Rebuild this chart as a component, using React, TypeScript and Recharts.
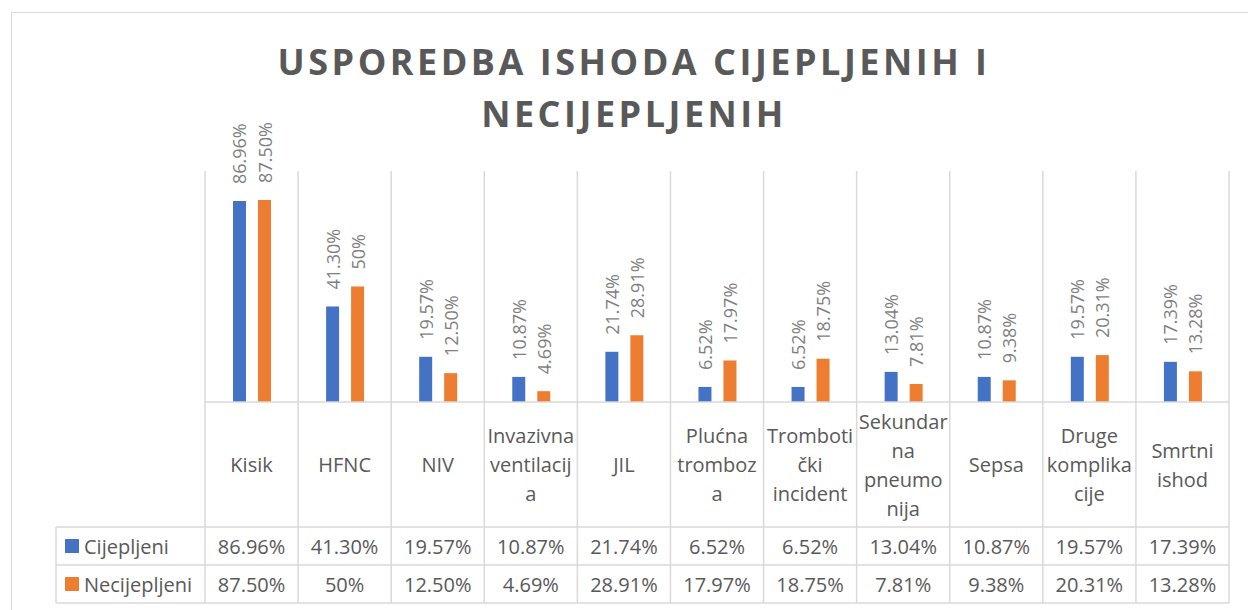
import React from 'react';
import { BarChart, Bar, XAxis, YAxis, LabelList } from 'recharts';

const categories = [
  'Kisik',
  'HFNC',
  'NIV',
  'Invazivna\nventilacij\na',
  'JIL',
  'Plućna\ntromboz\na',
  'Tromboti\nčki\nincident',
  'Sekundar\nna\npneumo\nnija',
  'Sepsa',
  'Druge\nkomplika\ncije',
  'Smrtni\nishod',
];

const cijepljeni = [86.96, 41.3, 19.57, 10.87, 21.74, 6.52, 6.52, 13.04, 10.87, 19.57, 17.39];
const necijepljeni = [87.5, 50, 12.5, 4.69, 28.91, 17.97, 18.75, 7.81, 9.38, 20.31, 13.28];

const seriesNames = ['Cijepljeni', 'Necijepljeni'];
const titleLines = ['USPOREDBA ISHODA CIJEPLJENIH I', 'NECIJEPLJENIH'];

const data = categories.map((name, i) => ({
  name,
  cijepljeni: cijepljeni[i],
  necijepljeni: necijepljeni[i],
}));

const BLUE = '#4472C4';
const ORANGE = '#ED7D31';
const GRID = '#D9D9D9';
const TEXT = '#595959';
const FONT = '"Open Sans", sans-serif';

// layout
const W = 1248;
const H = 610;
const PLOT_LEFT = 205;
const PLOT_RIGHT = 1229;
const PLOT_TOP = 171;
const BASE = 402;
const ROW1 = 527;
const ROW2 = 565;
const ROW3 = 603;
const LEGEND_LEFT = 56;
const BAND = (PLOT_RIGHT - PLOT_LEFT) / categories.length;

const fmt = (v: number) => (Number.isInteger(v) ? `${v}%` : `${v.toFixed(2)}%`);

const RotatedLabel = (props: any) => {
  const { x, y, width, value } = props;
  const cx = x + width / 2;
  const ty = y - 17;
  return (
    <text
      x={cx}
      y={ty}
      transform={`rotate(-90 ${cx} ${ty})`}
      textAnchor="start"
      dominantBaseline="central"
      fill="#7F7F7F"
      fontSize={18}
      fontFamily={FONT}
    >
      {fmt(value)}
    </text>
  );
};

// category axis tick draws the data table column under each category
const TableTick = (props: any) => {
  const { x, payload, index } = props;
  const lines: string[] = String(payload.value).split('\n');
  const lh = 29;
  const midY = (BASE + ROW1) / 2;
  const startY = midY - ((lines.length - 1) * lh) / 2;
  const left = x - BAND / 2;
  const right = x + BAND / 2;
  const isLast = index === categories.length - 1;
  return (
    <g>
      <line x1={left} x2={left} y1={PLOT_TOP} y2={ROW3} stroke={GRID} strokeWidth={1.5} />
      {isLast && <line x1={right} x2={right} y1={PLOT_TOP} y2={ROW3} stroke={GRID} strokeWidth={1.5} />}
      {lines.map((l, i) => (
        <text
          key={i}
          x={x}
          y={startY + i * lh}
          textAnchor="middle"
          dominantBaseline="central"
          fill={TEXT}
          fontSize={20}
          fontFamily={FONT}
        >
          {l}
        </text>
      ))}
      <text x={x} y={(ROW1 + ROW2) / 2} textAnchor="middle" dominantBaseline="central" fill={TEXT} fontSize={20} fontFamily={FONT}>
        {fmt(cijepljeni[index])}
      </text>
      <text x={x} y={(ROW2 + ROW3) / 2} textAnchor="middle" dominantBaseline="central" fill={TEXT} fontSize={20} fontFamily={FONT}>
        {fmt(necijepljeni[index])}
      </text>
      {index === 0 && (
        <g>
          {[ROW1, ROW2, ROW3].map((ry) => (
            <line key={ry} x1={LEGEND_LEFT} x2={PLOT_RIGHT} y1={ry} y2={ry} stroke={GRID} strokeWidth={1.5} />
          ))}
          <line x1={LEGEND_LEFT} x2={LEGEND_LEFT} y1={ROW1} y2={ROW3} stroke={GRID} strokeWidth={1.5} />
          {seriesNames.map((s, i) => {
            const cy = i === 0 ? (ROW1 + ROW2) / 2 : (ROW2 + ROW3) / 2;
            return (
              <g key={s}>
                <rect x={65} y={cy - 7} width={14} height={14} fill={i === 0 ? BLUE : ORANGE} />
                <text x={84} y={cy} dominantBaseline="central" fill={TEXT} fontSize={20} fontFamily={FONT}>
                  {s}
                </text>
              </g>
            );
          })}
        </g>
      )}
    </g>
  );
};

export default function App() {
  return (
    <div style={{ position: 'absolute', left: 0, top: 0, width: W, height: H, background: '#fff', overflow: 'hidden' }}>
      <div
        style={{
          position: 'absolute',
          left: 11,
          top: 12,
          width: W,
          height: H,
          border: `1.5px solid ${GRID}`,
        }}
      />
      <svg width={W} height={150} style={{ position: 'absolute', left: 0, top: 0 }}>
        {titleLines.map((t, i) => (
          <text
            key={i}
            x={634}
            y={75 + i * 52}
            textAnchor="middle"
            fill={TEXT}
            fontSize={36}
            fontWeight={700}
            letterSpacing={3.5}
            fontFamily={FONT}
          >
            {t}
          </text>
        ))}
      </svg>
      <div style={{ position: 'absolute', left: 0, top: 0 }}>
        <BarChart
          width={W}
          height={H}
          data={data}
          margin={{ top: PLOT_TOP, right: W - PLOT_RIGHT, bottom: H - ROW3, left: PLOT_LEFT }}
          barSize={13}
          barGap={12}
        >
          <XAxis
            dataKey="name"
            height={ROW3 - BASE}
            interval={0}
            tickLine={false}
            tickSize={0}
            tickMargin={0}
            axisLine={{ stroke: GRID, strokeWidth: 1.5 }}
            tick={<TableTick />}
          />
          <YAxis hide domain={[0, 100]} />
          <Bar dataKey="cijepljeni" name={seriesNames[0]} fill={BLUE} isAnimationActive={false}>
            <LabelList dataKey="cijepljeni" content={<RotatedLabel />} />
          </Bar>
          <Bar dataKey="necijepljeni" name={seriesNames[1]} fill={ORANGE} isAnimationActive={false}>
            <LabelList dataKey="necijepljeni" content={<RotatedLabel />} />
          </Bar>
        </BarChart>
      </div>
    </div>
  );
}
